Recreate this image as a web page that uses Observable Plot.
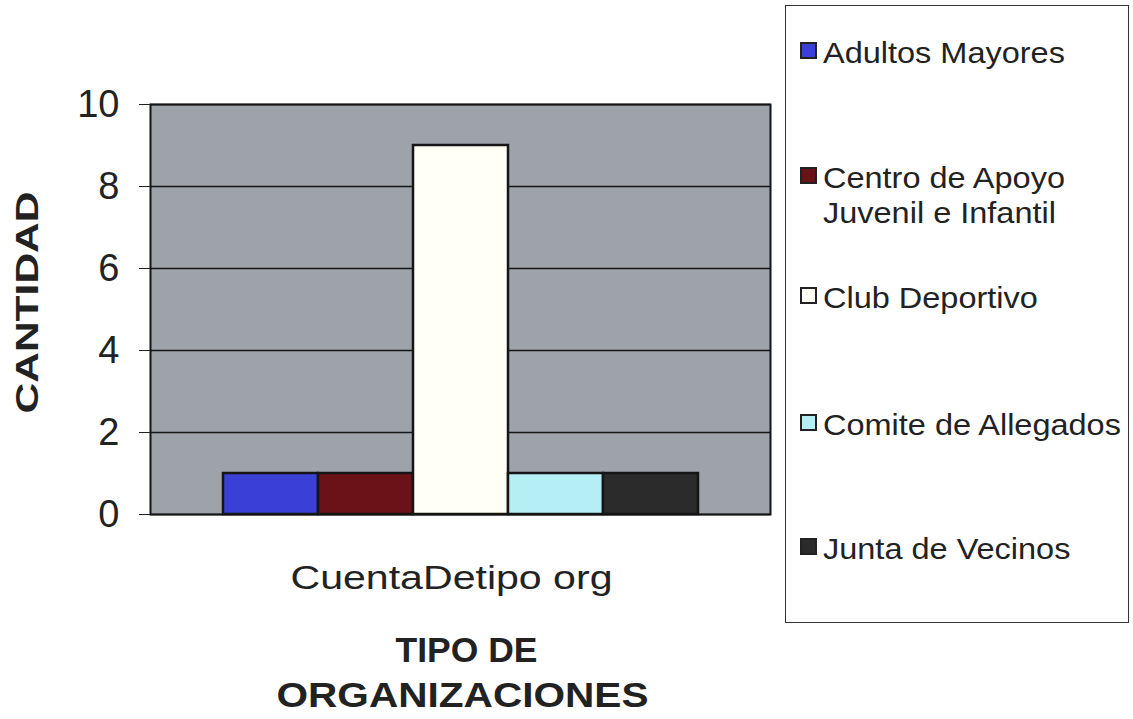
<!DOCTYPE html>
<html>
<head>
<meta charset="utf-8">
<script src="https://cdn.jsdelivr.net/npm/d3@7"></script>
<script src="https://cdn.jsdelivr.net/npm/@observablehq/plot@0.6"></script>
<style>
  html, body { margin: 0; padding: 0; background: #ffffff; }
  #wrap { position: relative; width: 1133px; height: 719px; overflow: hidden; font-family: "Liberation Sans", Arial, sans-serif; color: #222; }
  #chart { position: absolute; left: 0; top: 0; }
  #legend { position: absolute; left: 785px; top: 5px; width: 344px; height: 618px; border: 1.5px solid #333; box-sizing: border-box; }
  .item { position: absolute; left: 14px; display: flex; align-items: flex-start; }
  .sw { width: 17px; height: 17px; border: 2px solid #222; box-sizing: border-box; margin-top: 6px; flex: none; }
  .lab { font-size: 29px; line-height: 35px; margin-left: 6px; transform: scaleX(1.12); transform-origin: left center; white-space: nowrap; }
</style>
</head>
<body>
<div id="wrap">
  <div id="chart"></div>
  <div id="legend"></div>
</div>
<script>
const categories = ["Adultos Mayores", "Centro de Apoyo Juvenil e Infantil", "Club Deportivo", "Comite de Allegados", "Junta de Vecinos"];
const legendLines = [["Adultos Mayores"], ["Centro de Apoyo", "Juvenil e Infantil"], ["Club Deportivo"], ["Comite de Allegados"], ["Junta de Vecinos"]];
const values = [1, 1, 9, 1, 1];
const colors = ["#3a40d6", "#6b1118", "#fffff6", "#b6eef5", "#2b2b2b"];
const yTicks = [0, 2, 4, 6, 8, 10];
const seriesLabel = "CuentaDetipo org";
const yTitle = "CANTIDAD";
const xTitleLines = ["TIPO DE", "ORGANIZACIONES"];

const data = categories.map((c, i) => ({name: c, value: values[i]}));

const plot = Plot.plot({
  width: 780,
  height: 719,
  marginLeft: 150,
  marginRight: 10,
  marginTop: 104,
  marginBottom: 205,
  style: {fontFamily: "Liberation Sans, Arial, sans-serif", color: "#222", background: "transparent"},
  x: {domain: categories, paddingInner: 0, paddingOuter: 0.74, axis: null},
  y: {domain: [0, 10], axis: null},
  color: {domain: categories, range: colors},
  marks: [
    Plot.frame({fill: "#9ea3aa", stroke: null}),
    Plot.gridY(yTicks, {stroke: "#151515", strokeOpacity: 1, strokeWidth: 1.6}),
    Plot.barY(data, {x: "name", y: "value", fill: "name", stroke: "#151515", strokeWidth: 2.5, inset: 0}),
    Plot.frame({stroke: "#151515", strokeWidth: 2}),
    Plot.axisY(yTicks, {tickSize: 11, tickPadding: 20, fontSize: 38, label: null, stroke: "#222", fill: "#222"}),
    Plot.text([yTitle], {text: d => d, frameAnchor: "left", dx: -122, dy: -7, rotate: -90, textAnchor: "middle", fontSize: 31, fontWeight: "bold", fill: "#222"}),
    Plot.text([seriesLabel], {text: d => d, frameAnchor: "bottom", dx: -9, dy: 64, fontSize: 33, fill: "#222", lineAnchor: "middle"}),
    Plot.text([xTitleLines[0]], {text: d => d, frameAnchor: "bottom", dx: 6, dy: 136, fontSize: 35, fontWeight: "bold", fill: "#222", lineAnchor: "middle"}),
    Plot.text([xTitleLines[1]], {text: d => d, frameAnchor: "bottom", dx: 2, dy: 181, fontSize: 35, fontWeight: "bold", fill: "#222", lineAnchor: "middle"})
  ]
});
document.getElementById("chart").appendChild(plot);

// stretch long titles to match scanned proportions
const stretch = {"CANTIDAD": 222, "CuentaDetipo org": 322, "TIPO DE": 142, "ORGANIZACIONES": 372};
plot.querySelectorAll("text").forEach(t => {
  const s = t.textContent.trim();
  if (stretch[s]) { t.setAttribute("textLength", stretch[s]); t.setAttribute("lengthAdjust", "spacingAndGlyphs"); }
});

// legend
const legendTops = [30, 155, 275, 402, 526];
const legend = document.getElementById("legend");
categories.forEach((c, i) => {
  const item = document.createElement("div");
  item.className = "item";
  item.style.top = legendTops[i] + "px";
  const sw = document.createElement("div");
  sw.className = "sw";
  sw.style.background = colors[i];
  const lab = document.createElement("div");
  lab.className = "lab";
  lab.innerHTML = legendLines[i].join("<br>");
  item.appendChild(sw);
  item.appendChild(lab);
  legend.appendChild(item);
});
</script>
</body>
</html>
